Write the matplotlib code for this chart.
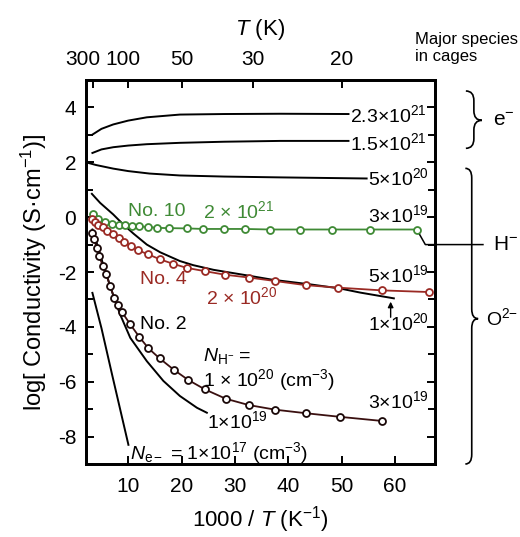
import numpy as np
import matplotlib
matplotlib.use("Agg")
import matplotlib.pyplot as plt
from matplotlib.path import Path
from matplotlib.patches import PathPatch
from matplotlib.transforms import ScaledTranslation

plt.rcParams['font.family'] = ['Liberation Sans', 'DejaVu Sans']
plt.rcParams['mathtext.fontset'] = 'custom'
plt.rcParams['mathtext.rm'] = 'Liberation Sans'
plt.rcParams['mathtext.it'] = 'Liberation Sans:italic'
plt.rcParams['mathtext.bf'] = 'Liberation Sans:bold'
plt.rcParams['axes.unicode_minus'] = False

# model curves (black), x = 1000/T
x_23e21 = [3.3, 5.0, 7.2, 10.0, 13.5, 19.7, 28.0, 38.5, 51.3]
y_23e21 = [3.01, 3.22, 3.38, 3.52, 3.64, 3.74, 3.76, 3.77, 3.76]
x_15e21 = [3.3, 5.0, 7.2, 10.0, 13.5, 19.7, 28.0, 38.5, 51.3]
y_15e21 = [2.34, 2.47, 2.55, 2.61, 2.66, 2.71, 2.75, 2.78, 2.78]
x_5e20 = [2.1, 4.0, 7.2, 10.0, 14.0, 19.7, 28.0, 38.5, 54.7]
y_5e20 = [2.0, 1.9, 1.77, 1.68, 1.59, 1.52, 1.48, 1.45, 1.41]
x_1e20 = [3.2, 4.75, 7.2, 9.1, 11.0, 13.5, 16.0, 19.7, 22.2, 26.0, 32.2, 37.0, 44.1, 49.7, 53.5, 59.8]
y_1e20 = [0.85, 0.52, 0.1, -0.27, -0.6, -1.0, -1.28, -1.6, -1.75, -1.92, -2.12, -2.28, -2.45, -2.6, -2.75, -2.96]
x_1e19 = [3.3, 4.2, 5.2, 6.2, 7.2, 8.5, 10.4, 13.5, 16.6, 19.7, 22.9, 24.75]
y_1e19 = [-0.45, -1.0, -1.65, -2.25, -2.85, -3.55, -4.4, -5.25, -5.97, -6.52, -6.95, -7.13]
x_1e17 = [3.3, 5.0, 7.0, 10.05]
y_1e17 = [-2.76, -4.05, -5.75, -8.3]

# measured samples
x_no10 = [3.5, 4.4, 5.7, 6.9, 8.2, 9.4, 10.7, 12.1, 13.8, 15.5, 17.6, 21.0, 24.1, 27.9, 31.9, 36.6, 42.3, 48.3, 55.4, 64.1]
y_no10 = [0.12, -0.05, -0.17, -0.24, -0.28, -0.30, -0.33, -0.34, -0.36, -0.39, -0.40, -0.41, -0.43, -0.43, -0.43, -0.45, -0.45, -0.45, -0.45, -0.45]
x_no4 = [3.2, 3.8, 4.4, 5.25, 6.1, 7.1, 8.2, 9.3, 10.5, 11.9, 13.8, 16.0, 18.4, 21.0, 24.4, 28.2, 32.6, 37.6, 43.3, 49.4, 57.6, 66.4]
y_no4 = [-0.05, -0.17, -0.27, -0.36, -0.49, -0.61, -0.75, -0.90, -1.06, -1.21, -1.36, -1.54, -1.70, -1.85, -1.97, -2.10, -2.20, -2.33, -2.48, -2.57, -2.67, -2.73]
x_no2 = [3.3, 3.6, 4.1, 4.6, 5.25, 5.9, 6.6, 7.4, 8.1, 8.8, 10.4, 12.1, 13.8, 15.9, 18.6, 21.3, 24.4, 28.3, 32.6, 37.6, 43.4, 49.7, 57.6]
y_no2 = [-0.57, -0.78, -1.12, -1.42, -1.79, -2.09, -2.51, -2.94, -3.22, -3.45, -3.91, -4.37, -4.78, -5.15, -5.57, -5.94, -6.28, -6.62, -6.85, -7.02, -7.15, -7.28, -7.43]

# top axis: temperature
t_ticks = [300, 100, 50, 30, 20]
t_shift = [-10, -5, 0, 0, 0]   # px, to keep 300 and 100 apart

green = '#3f8a35'
red = '#9a2a24'
dark = '#3a1010'

fig = plt.figure(figsize=(5.2, 5.37), dpi=100)
ax = fig.add_axes([0.1654, 0.1359, 0.671, 0.7151])

for xs, ys in [(x_23e21, y_23e21), (x_15e21, y_15e21), (x_5e20, y_5e20),
               (x_1e20, y_1e20), (x_1e19, y_1e19), (x_1e17, y_1e17)]:
    ax.plot(xs, ys, color='black', lw=1.4, zorder=2)

ax.plot(x_no10, y_no10, color=green, lw=1.3, marker='o', ms=5, mfc='white',
        mec=green, mew=1.3, zorder=3)
ax.plot(x_no4, y_no4, color=red, lw=1.3, marker='o', ms=5, mfc='white',
        mec=red, mew=1.3, zorder=3)
ax.plot(x_no2, y_no2, color=dark, lw=1.3, marker='o', ms=5, mfc='white',
        mec='#1a0808', mew=1.3, zorder=3)

# leader to H- label
ax.plot([x_no10[-1], 65.7, 76.5], [y_no10[-1], -1.0, -1.0], color='black',
        lw=1.1, clip_on=False, zorder=2)

ax.set_xlim(2.1, 67.5)
ax.set_ylim(-9, 5)
ax.set_xticks([10, 20, 30, 40, 50, 60])
ax.set_yticks([-8, -6, -4, -2, 0, 2, 4])
ax.set_yticks(np.arange(-9, 6, 1), minor=True)
ax.tick_params(which='both', direction='in', right=True, top=False, width=1.4,
               labelsize=15)
ax.tick_params(which='major', length=6)
ax.tick_params(which='minor', length=5)
ax.tick_params(axis='y', pad=7)
ax.tick_params(axis='x', pad=9)
for s in ax.spines.values():
    s.set_linewidth(2)

ax.set_xlabel('1000 / $T$ (K$^{-1}$)', fontsize=16, labelpad=6)
ax.set_ylabel('log[ Conductivity (S·cm$^{-1}$)]', fontsize=17, labelpad=6)

ax2 = ax.twiny()
ax2.set_xlim(ax.get_xlim())
ax2.set_xticks([1000 / t for t in t_ticks])
ax2.set_xticklabels([str(t) for t in t_ticks])
ax2.tick_params(direction='in', length=6, width=1.4, labelsize=15, pad=8)
for lab, dx in zip(ax2.get_xticklabels(), t_shift):
    lab.set_transform(lab.get_transform() + ScaledTranslation(dx / 100, 0, fig.dpi_scale_trans))
ax2.set_xlabel('$T$ (K)', fontsize=16, labelpad=11)
for s in ax2.spines.values():
    s.set_linewidth(2)

fs = 14
ax.text(51.5, 3.72, '2.3×10$^{21}$', fontsize=fs, va='center')
ax.text(51.5, 2.68, '1.5×10$^{21}$', fontsize=fs, va='center')
ax.text(54.9, 1.42, '5×10$^{20}$', fontsize=fs, va='center')
ax.text(55.0, 0.08, '3×10$^{19}$', fontsize=fs, va='center')
ax.text(55.0, -2.12, '5×10$^{19}$', fontsize=fs, va='center')
ax.text(55.0, -3.87, '1×10$^{20}$', fontsize=fs, va='center')
ax.text(55.0, -6.72, '3×10$^{19}$', fontsize=fs, va='center')
ax.text(24.7, -7.45, '1×10$^{19}$', fontsize=fs, va='center')
ax.annotate('', xy=(59.2, -2.98), xytext=(59.2, -3.75),
            arrowprops=dict(arrowstyle='-|>', color='black', lw=1.0,
                            mutation_scale=8))

ax.text(10.0, 0.22, 'No. 10', fontsize=fs, color=green, va='center')
ax.text(24.1, 0.22, '2 × 10$^{21}$', fontsize=fs, color=green, va='center')
ax.text(12.3, -2.26, 'No. 4', fontsize=fs, color=red, va='center')
ax.text(24.5, -2.92, '2 × 10$^{20}$', fontsize=fs, color=red, va='center')
ax.text(12.3, -3.93, 'No. 2', fontsize=fs, va='center')
ax.text(24.1, -5.06, '$N_{\\mathrm{H}^{-}}$ =', fontsize=fs, va='center')
ax.text(24.1, -5.94, '1 × 10$^{20}$ (cm$^{-3}$)', fontsize=fs, va='center')
ax.text(10.4, -8.6, '$N_{\\mathrm{e}-}$ = 1×10$^{17}$ (cm$^{-3}$)', fontsize=fs,
        va='center')


def brace(x0, y_top, y_bot, y_tip, w, r):
    xm = x0 + w / 2
    verts = [(x0, y_top), (xm, y_top), (xm, y_top - r), (xm, y_tip + r),
             (xm, y_tip), (x0 + w, y_tip), (xm, y_tip), (xm, y_tip - r),
             (xm, y_bot + r), (xm, y_bot), (x0, y_bot)]
    codes = [Path.MOVETO, Path.CURVE3, Path.CURVE3, Path.LINETO,
             Path.CURVE3, Path.CURVE3, Path.CURVE3, Path.CURVE3,
             Path.LINETO, Path.CURVE3, Path.CURVE3]
    ax.add_patch(PathPatch(Path(verts, codes), fill=False, lw=1.2,
                           clip_on=False, transform=ax.transData))


brace(73.3, 4.6, 2.51, 3.53, 3.0, 0.35)
brace(73.2, 1.78, -9.0, -3.7, 2.4, 0.35)
ax.text(78.3, 3.53, 'e$^{-}$', fontsize=15, va='center', clip_on=False)
ax.text(78.3, -1.0, 'H$^{-}$', fontsize=15, va='center', clip_on=False)
ax.text(77.0, -3.7, 'O$^{2{-}}$', fontsize=14, va='center', clip_on=False)

fig.text(415 / 520, 1 - 48 / 537, 'Major species\nin cages', fontsize=12,
         va='center', ha='left', linespacing=1.15)

fig.savefig('out.png', dpi=100)
